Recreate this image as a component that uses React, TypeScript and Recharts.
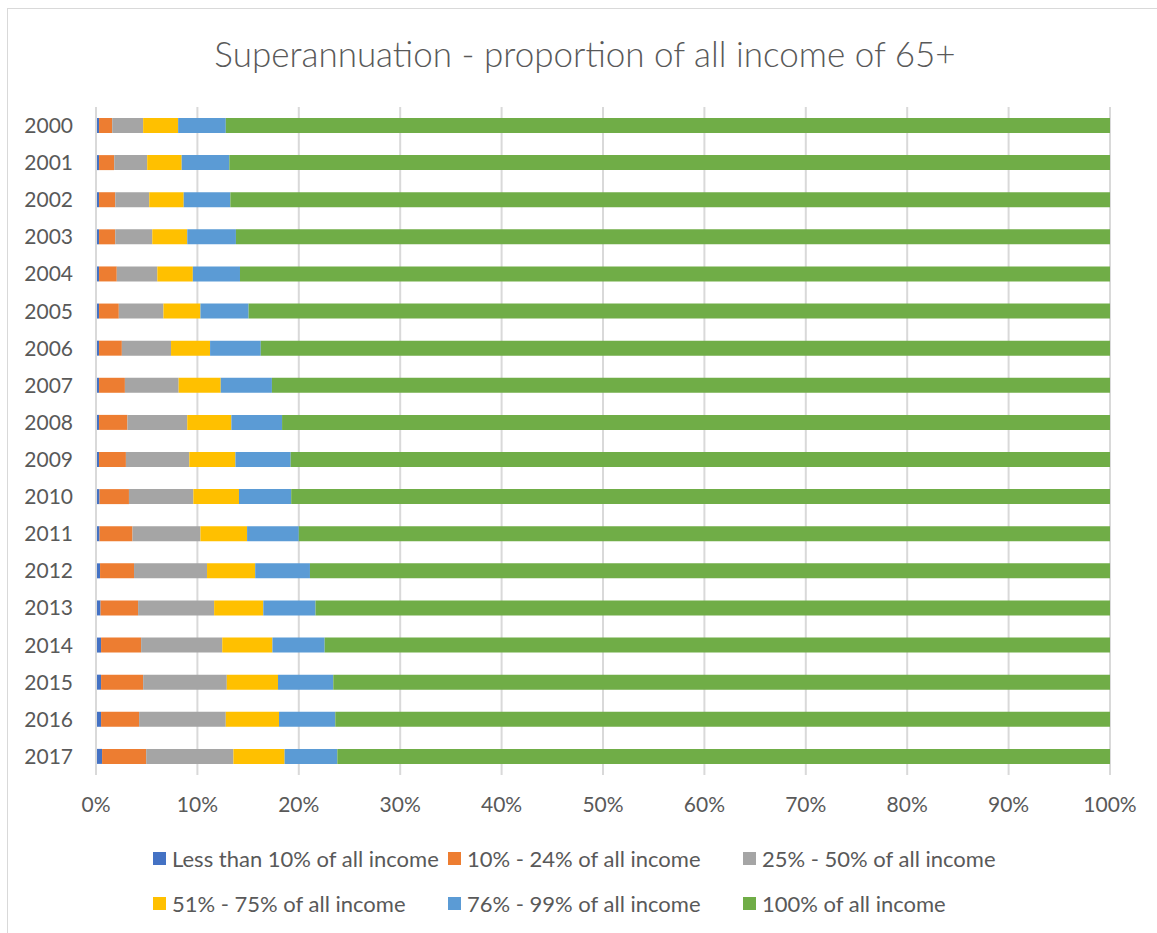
import { BarChart, Bar, XAxis, YAxis, CartesianGrid, Legend } from 'recharts';

const years = ['2000', '2001', '2002', '2003', '2004', '2005', '2006', '2007', '2008', '2009', '2010', '2011', '2012', '2013', '2014', '2015', '2016', '2017'];

const lessThan10 = [0.3, 0.3, 0.3, 0.3, 0.3, 0.3, 0.3, 0.3, 0.3, 0.3, 0.35, 0.35, 0.4, 0.45, 0.5, 0.5, 0.5, 0.6];
const from10to24 = [1.3, 1.5, 1.6, 1.6, 1.75, 1.95, 2.25, 2.55, 2.8, 2.65, 2.9, 3.25, 3.35, 3.7, 3.95, 4.15, 3.75, 4.35];
const from25to50 = [3.05, 3.25, 3.35, 3.65, 4.0, 4.4, 4.85, 5.3, 5.9, 6.25, 6.35, 6.7, 7.2, 7.5, 8.0, 8.25, 8.55, 8.6];
const from51to75 = [3.45, 3.4, 3.4, 3.45, 3.5, 3.65, 3.85, 4.15, 4.35, 4.55, 4.5, 4.6, 4.75, 4.85, 4.95, 5.05, 5.25, 5.05];
const from76to99 = [4.7, 4.7, 4.6, 4.8, 4.65, 4.75, 5.0, 5.05, 5.0, 5.45, 5.15, 5.1, 5.4, 5.15, 5.15, 5.45, 5.55, 5.2];
const all100 = [87.2, 86.85, 86.75, 86.2, 85.8, 84.95, 83.75, 82.65, 81.65, 80.8, 80.75, 80.0, 78.9, 78.35, 77.45, 76.6, 76.4, 76.2];

const xTicks = [0, 10, 20, 30, 40, 50, 60, 70, 80, 90, 100];

const series = [
  { key: 'lt10', name: 'Less than 10% of all income', color: '#4472C4', values: lessThan10 },
  { key: 'p10', name: '10% - 24% of all income', color: '#ED7D31', values: from10to24 },
  { key: 'p25', name: '25% - 50% of all income', color: '#A5A5A5', values: from25to50 },
  { key: 'p51', name: '51% - 75% of all income', color: '#FFC000', values: from51to75 },
  { key: 'p76', name: '76% - 99% of all income', color: '#5B9BD5', values: from76to99 },
  { key: 'p100', name: '100% of all income', color: '#70AD47', values: all100 },
];

const data = years.map((year, i) => {
  const row: Record<string, string | number> = { year };
  series.forEach((s) => {
    row[s.key] = s.values[i];
  });
  return row;
});

const FONT = 'Lato, "Open Sans", sans-serif';
const TEXT = '#595959';

const LegendBox = () => (
  <div style={{ display: 'grid', gridTemplateColumns: '295px 295px 295px', rowGap: 20, paddingLeft: 153 }}>
    {series.map((s) => (
      <div key={s.key} style={{ display: 'flex', alignItems: 'center', height: 25 }}>
        <span style={{ width: 13, height: 13, background: s.color, marginRight: 6, display: 'inline-block' }} />
        <span style={{ fontFamily: FONT, fontSize: 22, color: TEXT, whiteSpace: 'nowrap' }}>{s.name}</span>
      </div>
    ))}
  </div>
);

export default function App() {
  return (
    <div style={{ position: 'absolute', left: 0, top: 0, width: 1157, height: 933, overflow: 'hidden', background: '#fff' }}>
      <div style={{ position: 'absolute', left: 7, top: 8, width: 1160, height: 940, border: '1.5px solid #d9d9d9', boxSizing: 'border-box' }} />
      <div style={{ position: 'absolute', left: 0, width: 1170, textAlign: 'center', top: 32, fontFamily: FONT, fontSize: 35, fontWeight: 300, color: TEXT }}>
        Superannuation - proportion of all income of 65+
      </div>
      <div style={{ position: 'absolute', left: 0, top: 0 }}>
        <BarChart
          width={1157}
          height={933}
          data={data}
          layout="vertical"
          barSize={15}
          margin={{ top: 107, right: 47, left: 0, bottom: 38 }}
        >
          <CartesianGrid horizontal={false} stroke="#d9d9d9" strokeWidth={2} />
          <XAxis
            type="number"
            domain={[0, 100]}
            ticks={xTicks}
            tickFormatter={(v) => `${v}%`}
            axisLine={false}
            tickLine={false}
            tickSize={0}
            tickMargin={22}
            height={40}
            tick={{ fill: TEXT, fontSize: 21, fontFamily: FONT }}
            interval={0}
          />
          <YAxis
            type="category"
            dataKey="year"
            width={96}
            axisLine={{ stroke: '#d9d9d9', strokeWidth: 2 }}
            tickLine={false}
            tickSize={0}
            tickMargin={23}
            tick={{ fill: TEXT, fontSize: 21, fontFamily: FONT }}
            interval={0}
          />
          <Legend
            verticalAlign="bottom"
            height={80}
            content={() => <LegendBox />}
            wrapperStyle={{ top: 846, bottom: 'auto', left: 0, width: 1157 }}
          />
          {series.map((s) => (
            <Bar key={s.key} dataKey={s.key} name={s.name} stackId="a" fill={s.color} isAnimationActive={false} />
          ))}
        </BarChart>
      </div>
    </div>
  );
}
